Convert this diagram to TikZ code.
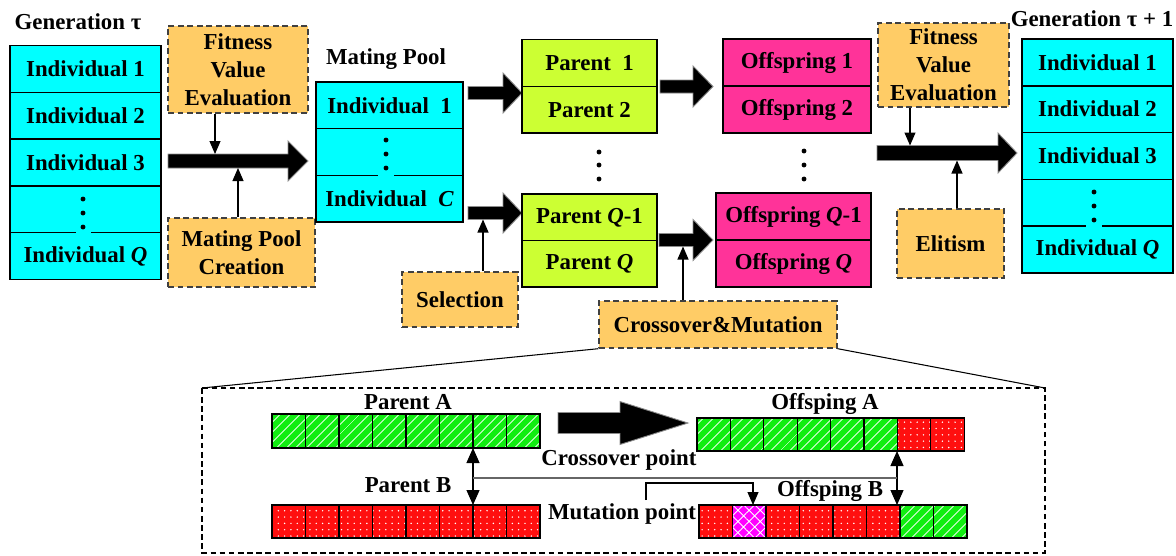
\documentclass[tikz,border=0pt]{standalone}
\usepackage{fontspec}
\setmainfont{Liberation Serif}
\usetikzlibrary{arrows.meta,patterns.meta}

\definecolor{popcyan}{HTML}{00FFFF}
\definecolor{operorange}{HTML}{FFCC66}
\definecolor{parentlime}{HTML}{CCFF33}
\definecolor{offpink}{HTML}{FF3399}
\definecolor{ggreen}{HTML}{11EE11}
\definecolor{gred}{HTML}{FF0F0F}
\definecolor{gmag}{HTML}{FF00FF}

\tikzset{
    every node/.style={font=\bfseries\fontsize{13}{16}\selectfont},
    row/.style={draw, line width=0.8pt, inner sep=0pt, outer sep=0pt},
    indiv/.style={row, fill=popcyan, minimum width=3.02cm, minimum height=0.936cm},
    pool/.style={row, fill=popcyan, minimum width=2.94cm, minimum height=0.933cm},
    parent/.style={row, fill=parentlime, minimum width=2.7cm, minimum height=0.935cm},
    offspr/.style={row, fill=offpink, minimum height=0.94cm},
    oper/.style={draw=black!75, fill=operorange, line width=0.8pt, dash pattern=on 3.4pt off 2pt, align=center, inner sep=0pt},
    thinarr/.style={-{Triangle[length=0.26cm,width=0.22cm]}, line width=0.6pt},
    twoarr/.style={{Triangle[length=0.3cm,width=0.26cm]}-{Triangle[length=0.3cm,width=0.26cm]}, line width=0.7pt},
    geneA/.style={preaction={fill=ggreen}, pattern={Lines[angle=45, distance=4pt, line width=0.5pt]}, pattern color=white, draw, line width=0.6pt},
    geneB/.style={preaction={fill=gred}, pattern={Dots[distance=3.6pt, radius=0.45pt]}, pattern color=white, draw, line width=0.6pt},
    geneM/.style={preaction={fill=gmag}, pattern={Hatch[angle=45, distance=4.5pt, line width=0.5pt]}, pattern color=white, draw, line width=0.6pt},
}

% tail x, tip x, y, half shaft, half head, head length
\newcommand{\fatarrow}[6]{%
    \filldraw[fill=black, draw=black!45, line width=0.5pt]
    (#1,#3-#4) -- (#2-#6,#3-#4) -- (#2-#6,#3-#5) -- (#2,#3)
    -- (#2-#6,#3+#5) -- (#2-#6,#3+#4) -- (#1,#3+#4) -- cycle;}
\newcommand{\stackdots}[4]{% x, y1, y2, y3
    \fill (#1,#2) circle (1.4pt) (#1,#3) circle (1.4pt) (#1,#4) circle (1.4pt);}

\begin{document}
\begin{tikzpicture}[x=0.02cm, y=-0.02cm]
    \useasboundingbox (0,0) rectangle (1176,555);

    % generation tau
    \node (gen) at (78,22) {Generation τ};
    \node[indiv] (g1) at (85.5,68.9) {Individual 1};
    \node[indiv] (g2) at (85.5,115.7) {Individual 2};
    \node[indiv] (g3) at (85.5,162.5) {Individual 3};
    \node[indiv] (g4) at (85.5,209.3) {};
    \node[indiv] (gq) at (85.5,256.1) {Individual \textit{Q}};
    \fill[popcyan] (76,231.5) rectangle (91,234);
    \stackdots{83}{199}{213}{227}

    % operators on the left
    \node[oper, minimum width=2.8cm, minimum height=1.74cm] (fitL) at (238,69.5) {Fitness\\Value\\Evaluation};
    \node[oper, minimum width=2.94cm, minimum height=1.38cm] (mpc) at (241.5,252.5) {Mating Pool\\Creation};
    \fatarrow{168}{308}{161}{7}{20}{20}
    \coordinate (a1top) at (215,154);
    \coordinate (a1bot) at (238,168);
    \draw[thinarr] (fitL.south -| a1top) -- (a1top);
    \draw[thinarr] (mpc.north -| a1bot) -- (a1bot);

    % mating pool
    \node (mplbl) at (386,59) {Mating Pool};
    \node[pool] (mp1) at (389.5,105.3) {Individual~ 1};
    \node[pool] (mp2) at (389.5,152) {};
    \node[pool] (mpc2) at (389.5,198.7) {Individual~ \textit{C}};
    \fill[popcyan] (378,174) rectangle (394,176.5);
    \stackdots{386}{140}{154}{168}

    % selection
    \fatarrow{468}{522}{93}{6.5}{20}{19}
    \fatarrow{468}{522}{213}{6.5}{20}{19}
    \node[oper, minimum width=2.32cm, minimum height=1.1cm] (sel) at (460,299.5) {Selection};
    \coordinate (a3bot) at (483,219.5);
    \draw[thinarr] (sel.north -| a3bot) -- (a3bot);

    % parents
    \node[parent] (p1) at (589.5,62.9) {Parent~ 1};
    \node[parent] (p2) at (589.5,109.6) {Parent 2};
    \node[parent] (pq1) at (589.5,217.3) {Parent \textit{Q}-1};
    \node[parent] (pq) at (589.5,263.8) {Parent \textit{Q}};
    \stackdots{599}{152}{165}{179}

    % crossover and mutation
    \fatarrow{660}{713}{86.5}{6.5}{20.5}{20}
    \fatarrow{659}{713}{240}{6.5}{20.5}{20}
    \node[oper, minimum width=4.76cm, minimum height=0.94cm] (cm) at (718,324.5) {Crossover\&Mutation};
    \coordinate (a5bot) at (683,246.5);
    \draw[thinarr] (cm.north -| a5bot) -- (a5bot);

    % offspring
    \node[offspr, minimum width=2.96cm] (o1) at (797,62.5) {Offspring 1};
    \node[offspr, minimum width=2.96cm] (o2) at (797,109.5) {Offspring 2};
    \node[offspr, minimum width=3.1cm] (oq1) at (793.5,216.5) {Offspring \textit{Q}-1};
    \node[offspr, minimum width=3.1cm] (oq) at (793.5,263.5) {Offspring \textit{Q}};
    \stackdots{804}{151}{165}{179}

    % operators on the right
    \node[oper, minimum width=2.62cm, minimum height=1.68cm] (fitR) at (943.5,65) {Fitness\\Value\\Evaluation};
    \node[oper, minimum width=2.14cm, minimum height=1.38cm] (elit) at (950.5,243.5) {Elitism};
    \fatarrow{877}{1017}{153}{7.5}{20}{19}
    \coordinate (a6top) at (910,145.5);
    \coordinate (a6bot) at (957,160.5);
    \draw[thinarr] (fitR.south -| a6top) -- (a6top);
    \draw[thinarr] (elit.north -| a6bot) -- (a6bot);

    % generation tau+1
    \node (gen2) at (1092,19) {Generation τ + 1};
    \node[indiv] (h1) at (1097.5,62.4) {Individual 1};
    \node[indiv] (h2) at (1097.5,109.2) {Individual 2};
    \node[indiv] (h3) at (1097.5,156) {Individual 3};
    \node[indiv] (h4) at (1097.5,202.8) {};
    \node[indiv] (hq) at (1097.5,249.6) {Individual \textit{Q}};
    \fill[popcyan] (1086,225) rectangle (1102,227.5);
    \stackdots{1094}{192}{206}{220}

    % zoomed detail of crossover and mutation
    \coordinate (fnw) at (202,388);
    \coordinate (fne) at (1045,388);
    \draw[line width=0.7pt, dash pattern=on 3.2pt off 2pt] (fnw) rectangle (1045,553);
    \draw[line width=0.6pt] (cm.south west) -- (fnw);
    \draw[line width=0.6pt] (cm.south east) -- (fne);

    \node (palbl) at (408,402) {Parent A};
    \node (pblbl) at (408,485) {Parent B};
    \node (oalbl) at (825,404) {Offsping A};
    \node (oblbl) at (830,491) {Offsping B};
    \node (xlbl) at (619,460) {Crossover point};
    \node (mlbl) at (622,514) {Mutation point};

    \foreach \i in {0,...,7}
        \draw[geneA] (272+33.5*\i,414) rectangle ++(33.5,34);
    \foreach \i in {0,...,7}
        \draw[geneB] (272+33.5*\i,505) rectangle ++(33.5,33);
    \foreach \i in {0,...,5}
        \draw[geneA] (697+33.4*\i,418) rectangle ++(33.4,33);
    \foreach \i in {6,7}
        \draw[geneB] (697+33.4*\i,418) rectangle ++(33.4,33);
    \foreach \i in {0,2,3,4,5}
        \draw[geneB] (699+33.5*\i,505) rectangle ++(33.5,33);
    \draw[geneM] (732.5,505) rectangle ++(33.5,33);
    \foreach \i in {6,7}
        \draw[geneA] (699+33.5*\i,505) rectangle ++(33.5,33);

    \fatarrow{558}{688}{423}{10.5}{21.5}{68}

    \coordinate (cutPA) at (473,448);
    \coordinate (cutPB) at (473,505);
    \coordinate (cutOA) at (897,451);
    \coordinate (cutOB) at (897,505);
    \draw[twoarr] (cutPA) -- (cutPB);
    \draw[twoarr] (cutOA) -- (cutOB);
    \coordinate (xl) at (473,478);
    \draw[black!60, line width=0.6pt] (xl) -- (xl -| cutOA);

    \coordinate (mstart) at (646,500);
    \coordinate (mut) at (753,505);
    \draw[thinarr] (mstart) -- (646,483) -- (753,483) -- (mut);
\end{tikzpicture}
\end{document}
